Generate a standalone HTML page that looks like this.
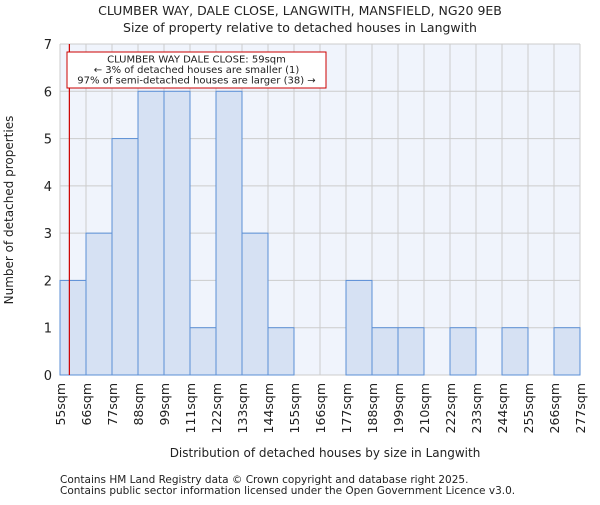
<!DOCTYPE html>
<html><head><meta charset="utf-8"><style>
body{margin:0;background:#fff;width:600px;height:500px;overflow:hidden}
svg text{font-family:"DejaVu Sans","Liberation Sans",sans-serif;fill:#222}
</style></head><body>
<svg id="chart" width="600" height="500">
<text x="300" y="15" text-anchor="middle" font-size="12.5">CLUMBER WAY, DALE CLOSE, LANGWITH, MANSFIELD, NG20 9EB</text>
<text x="300" y="32" text-anchor="middle" font-size="12.5">Size of property relative to detached houses in Langwith</text>
<rect x="60" y="44" width="520" height="331" fill="#f0f4fc"/>
<g id="grid"></g><g id="bars"></g><g id="axes"></g>
<text x="325" y="457" text-anchor="middle" font-size="12">Distribution of detached houses by size in Langwith</text>
<text transform="translate(13,210) rotate(-90)" text-anchor="middle" font-size="12">Number of detached properties</text>
<text x="60" y="483" font-size="10.5">Contains HM Land Registry data © Crown copyright and database right 2025.</text>
<text x="60" y="494" font-size="10.5">Contains public sector information licensed under the Open Government Licence v3.0.</text>
</svg>
<script>
const categories=["55sqm","66sqm","77sqm","88sqm","99sqm","111sqm","122sqm","133sqm","144sqm","155sqm","166sqm","177sqm","188sqm","199sqm","210sqm","222sqm","233sqm","244sqm","255sqm","266sqm","277sqm"];
const values=[2,3,5,6,6,1,6,3,1,0,0,2,1,1,0,1,0,1,0,1];
const yTicks=[0,1,2,3,4,5,6,7];
const markerValue=59;
const binStart=55, binWidth=11.1;
const L=60,R=580,T=44,B=375,yMax=7;
const bw=(R-L)/values.length;
const xs=i=>L+i*bw;
const ys=v=>B-(v/yMax)*(B-T);
const xv=v=>L+(v-binStart)/binWidth*bw;
const NS="http://www.w3.org/2000/svg";
function mk(tag,attrs,parent,txt){const e=document.createElementNS(NS,tag);for(const k in attrs)e.setAttribute(k,attrs[k]);if(txt!==undefined)e.textContent=txt;document.getElementById(parent).appendChild(e);return e;}
yTicks.forEach(t=>{
 const l=mk('line',{x1:L,x2:R,y1:ys(t),y2:ys(t),stroke:'#ccc','stroke-width':1},'grid');
 
 
 const tx=mk('text',{x:L-8,y:ys(t)+5,'text-anchor':'end','font-size':13},'axes',String(t));
 
 
});
categories.forEach((c,i)=>{
 const l=mk('line',{x1:xs(i),x2:xs(i),y1:T,y2:B,stroke:'#ccc','stroke-width':1},'grid');
 
 
 const tx=mk('text',{transform:`translate(${xs(i)+5},${B+8}) rotate(-90)`,'text-anchor':'end','font-size':12.5},'axes',c);
 
 
});
values.forEach((v,i)=>{
 if(v<=0)return;
 const r=mk('rect',{x:xs(i),y:ys(v),width:bw,height:B-ys(v),fill:'#d6e1f3',stroke:'#5b8fd6','stroke-width':1},'bars');
 
 
});
const ml=mk('line',{x1:xv(markerValue),x2:xv(markerValue),y1:T,y2:B,stroke:'#c00','stroke-width':1.2},'bars');


const box=mk('rect',{x:67,y:52,width:259,height:36,fill:'#fff',stroke:'#c00','stroke-width':1},'bars');


["CLUMBER WAY DALE CLOSE: 59sqm","← 3% of detached houses are smaller (1)","97% of semi-detached houses are larger (38) →"].forEach((s,k)=>{
 const t=mk('text',{x:196.5,y:62.5+k*10.5,'text-anchor':'middle','font-size':10},'bars',s);
 
 
});
</script>
</body></html>
